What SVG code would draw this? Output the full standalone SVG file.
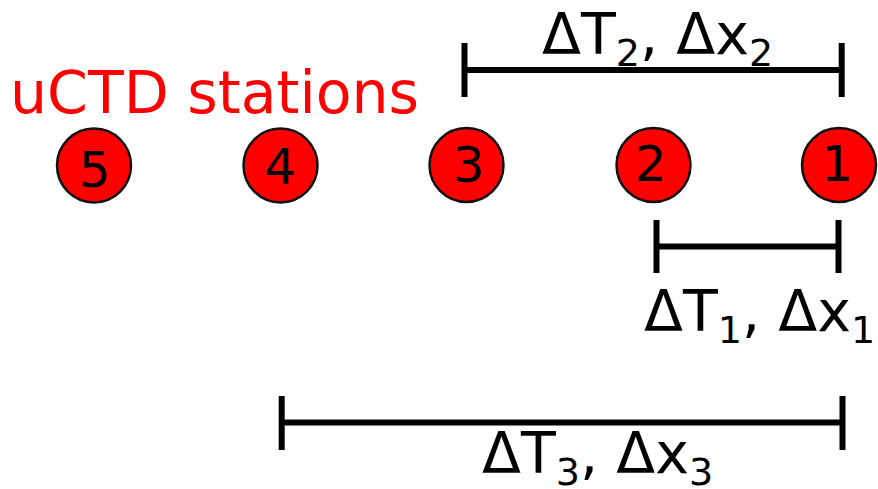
<svg xmlns="http://www.w3.org/2000/svg" width="878" height="489" viewBox="0 0 878 489">
<style>
.st circle{fill:#ff0000;stroke:#111;stroke-width:2.5}
.st text{font-family:"DejaVu Sans",sans-serif;font-size:50px;fill:#000;text-anchor:middle}
.br{stroke:#000;stroke-width:6;fill:none}
.lbl{font-family:"DejaVu Sans",sans-serif;font-size:57px;fill:#000}
.sub{font-size:38px}
.title{font-family:"DejaVu Sans",sans-serif;font-size:58.5px;fill:#ff0000}
</style>
<rect width="878" height="489" fill="#fff"/>
<text class="title" x="10" y="113">uCTD stations</text>
<g id="station5" class="st"><circle cx="94" cy="165.5" r="37"/><text x="95" y="187">5</text></g>
<g id="station4" class="st"><circle cx="280.5" cy="165.5" r="37"/><text x="280.5" y="184">4</text></g>
<g id="station3" class="st"><circle cx="466.5" cy="165" r="37"/><text x="469" y="182">3</text></g>
<g id="station2" class="st"><circle cx="653.5" cy="165" r="37"/><text x="651" y="181">2</text></g>
<g id="station1" class="st"><circle cx="839" cy="165" r="37"/><text x="837.5" y="181">1</text></g>
<g id="connectors">
<g id="span2"><path class="br" d="M464.5 43V97M464.5 70H841.7M841.7 43V97"/>
<text class="lbl" x="542" y="54">ΔT<tspan class="sub" dy="12">2</tspan><tspan dy="-12">, Δx</tspan><tspan class="sub" dy="12">2</tspan></text></g>
<g id="span1"><path class="br" d="M656.5 220V273M656.5 246.5H838.5M838.5 220V273"/>
<text class="lbl" x="644" y="331">ΔT<tspan class="sub" dy="12">1</tspan><tspan dy="-12">, Δx</tspan><tspan class="sub" dy="12">1</tspan></text></g>
<g id="span3"><path class="br" d="M281.7 396V450M281.7 422.5H842.5M842.5 396V450"/>
<text class="lbl" x="482" y="473">ΔT<tspan class="sub" dy="12">3</tspan><tspan dy="-12">, Δx</tspan><tspan class="sub" dy="12">3</tspan></text></g>
</g>
</svg>
